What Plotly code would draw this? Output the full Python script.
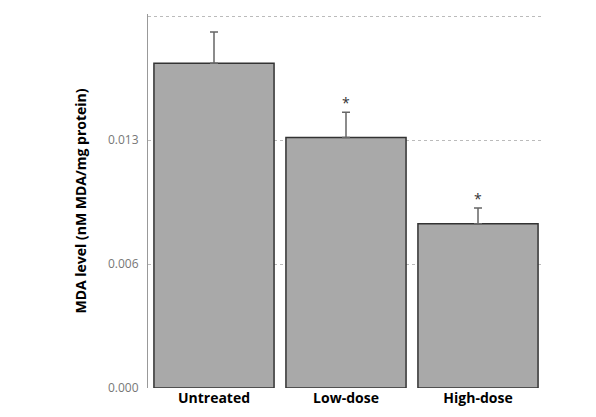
import plotly.graph_objects as go

groups = ["Untreated", "Low-dose", "High-dose"]
mda = [0.0166, 0.0128, 0.0084]
err = [0.0016, 0.0013, 0.0008]
marks = ["", "*", "*"]
tick_vals = [0, 0.019 / 3, 0.019 * 2 / 3, 0.019]
tick_text = ["0.000", "0.006", "0.013", "0.019"]

fig = go.Figure(go.Bar(
    x=groups, y=mda,
    marker=dict(color="#a9a9a9", line=dict(color="#333333", width=1.5)),
    error_y=dict(type="data", symmetric=False, array=err,
                 arrayminus=[0, 0, 0], color="#666666", thickness=1.5, width=4),
    width=0.91,
))

for g, v, e, m in zip(groups, mda, err, marks):
    if m:
        fig.add_annotation(x=g, y=v + e, text=m, showarrow=False, yshift=10,
                           font=dict(size=14, color="#333333"))

fig.update_layout(
    width=596, height=417,
    margin=dict(l=140, r=60, t=6, b=37),
    plot_bgcolor="white", paper_bgcolor="white",
    showlegend=False,
    font=dict(family="Open Sans"),
)
fig.update_xaxes(range=[-0.5, 2.5], showline=False,
                 tickfont=dict(size=14, color="black", weight="bold"))
fig.update_yaxes(range=[0, 0.01912], tickvals=tick_vals, ticktext=tick_text,
                 tickfont=dict(size=12, color="#777777"),
                 showgrid=True, gridcolor="#bbbbbb", griddash="dot",
                 showline=True, linecolor="#999999", zeroline=False,
                 ticks="", ticklabelstandoff=6,
                 title=dict(text="MDA level (nM MDA/mg protein)",
                            font=dict(size=14, color="black", weight="bold"),
                            standoff=18))

fig.write_html("out.html")
